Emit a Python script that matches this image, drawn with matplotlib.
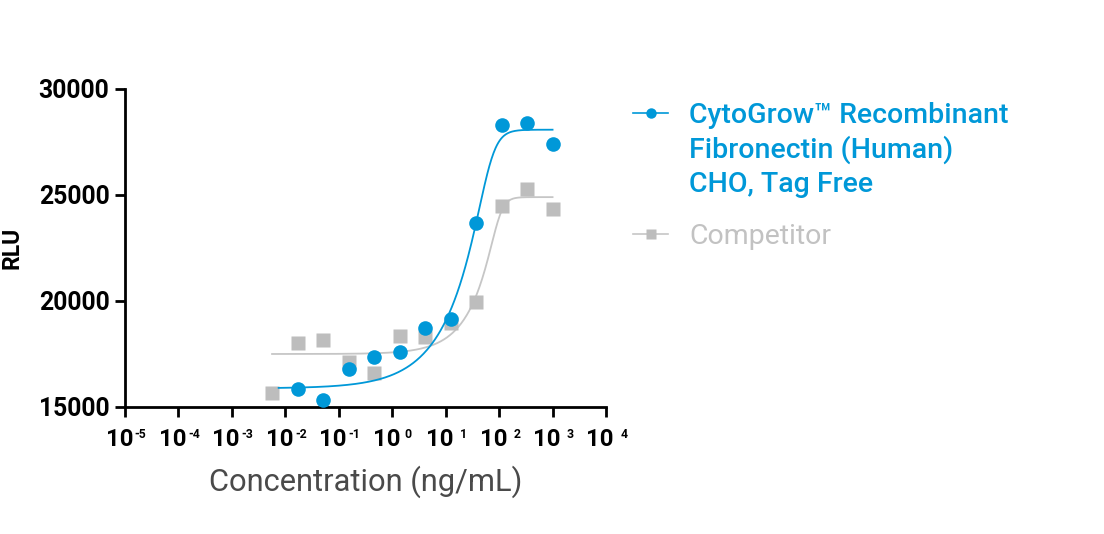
import numpy as np
import matplotlib
matplotlib.use("Agg")
import matplotlib.pyplot as plt
from matplotlib.lines import Line2D
from matplotlib.ticker import NullLocator, FixedLocator

# ---------------- data ----------------
cyto_conc = [1000, 333.3, 111.1, 37.04, 12.35, 4.115, 1.372, 0.4572, 0.1524, 0.0508, 0.01694]
cyto_rlu = [27400, 28380, 28300, 23690, 19165, 18710, 17610, 17340, 16790, 15330, 15850]

comp_conc = [1000, 333.3, 111.1, 37.04, 12.35, 4.115, 1.372, 0.4572, 0.1524, 0.0508, 0.01694, 0.005645]
comp_rlu = [24330, 25280, 24500, 19970, 18950, 18320, 18360, 16620, 17140, 18160, 18005, 15675]

# fitted dose-response curves (5-parameter logistic)
cyto_fit = dict(bottom=15880, top=28080, log_ec50=1.833, hill=3.5, asym=0.2)
comp_fit = dict(bottom=17500, top=24900, log_ec50=2.0, hill=5.0, asym=0.2)
cyto_range = (0.0075, 1000)
comp_range = (0.005645, 1000)

x_exponents = ["-5", "-4", "-3", "-2", "-1", "0", "1", "2", "3", "4"]
y_ticks = [15000, 20000, 25000, 30000]

label_cyto = ["CytoGrow\u2122 Recombinant", "Fibronectin (Human)", "CHO, Tag Free"]
label_comp = "Competitor"
x_label = "Concentration (ng/mL)"
y_label = "RLU"

BLUE = "#0098d8"
GRAY_M = "#bdbdbd"
GRAY_L = "#c6c6c6"
GRAY_T = "#c2c2c2"
DARK = "#4a4a4a"
FONT = "Roboto"

plt.rcParams["font.family"] = [FONT, "DejaVu Sans"]


def five_pl(x, bottom, top, log_ec50, hill, asym):
    u = 10.0 ** (hill * (log_ec50 - np.log10(x)))
    return bottom + (top - bottom) / (1.0 + u) ** asym


W, H = 1104, 534
fig = plt.figure(figsize=(W / 100, H / 100), dpi=100)


def fx(px):
    return px / W


def fy(py):
    return 1 - py / H


ax_l, ax_r, ax_t, ax_b = 125, 606, 89, 407
ax = fig.add_axes([fx(ax_l), fy(ax_b), (ax_r - ax_l) / W, (ax_b - ax_t) / H])
ax.set_xscale("log")
ax.set_xlim(1e-5, 1e4)
ax.set_ylim(15000, 30000)

# curves
xs = np.logspace(np.log10(comp_range[0]), np.log10(comp_range[1]), 400)
ax.plot(xs, five_pl(xs, **comp_fit), color=GRAY_L, lw=1.3, zorder=2)
ax.plot(comp_conc, comp_rlu, linestyle="none", marker="s", ms=9.5,
        color=GRAY_M, mec="none", zorder=3, clip_on=False)
xb = np.logspace(np.log10(cyto_range[0]), np.log10(cyto_range[1]), 400)
ax.plot(xb, five_pl(xb, **cyto_fit), color=BLUE, lw=1.3, zorder=4)
ax.plot(cyto_conc, cyto_rlu, linestyle="none", marker="o", ms=10.5,
        color=BLUE, mec="none", zorder=5, clip_on=False)

# axes styling
for s in ["top", "right"]:
    ax.spines[s].set_visible(False)
for s in ["left", "bottom"]:
    ax.spines[s].set_linewidth(2.0)
    ax.spines[s].set_color("black")

x_ticks = [10.0 ** int(e) for e in x_exponents]
ax.xaxis.set_major_locator(FixedLocator(x_ticks))
ax.xaxis.set_minor_locator(NullLocator())
ax.tick_params(axis="x", which="major", length=7.2, width=2.0, labelbottom=False)
ax.set_yticks(y_ticks)
ax.set_yticklabels([str(v) for v in y_ticks])
ax.tick_params(axis="y", length=7.2, width=2.0, pad=4.0, labelsize=17.8)
for lab in ax.get_yticklabels():
    lab.set_fontweight("bold")
    lab.set_fontfamily(FONT)

# x tick labels: "10" with small superscript exponent
for t, e in zip(x_ticks, x_exponents):
    ax.annotate("10", xy=(t, 0), xycoords=("data", "axes fraction"),
                xytext=(8, -38.5), textcoords="offset pixels",
                ha="right", va="baseline", fontsize=17.2, fontweight="bold",
                fontfamily=FONT, annotation_clip=False)
    gap = 1.7 if e.startswith("-") else (4.5 if e == "0" else 6.3)
    ax.annotate(e, xy=(t, 0), xycoords=("data", "axes fraction"),
                xytext=(8 + gap, -31), textcoords="offset pixels",
                ha="left", va="baseline", fontsize=8.8, fontweight="bold",
                fontfamily=FONT, annotation_clip=False)

# axis titles
fig.text(fx(366), fy(491), x_label, ha="center", va="baseline",
         fontsize=22.2, color=DARK, fontfamily=FONT)
fig.text(fx(12), fy(247.5), y_label, ha="center", va="center", rotation=90,
         fontsize=16.5, fontweight="bold", color="black", fontfamily=FONT)

# legend (drawn manually)
fig.add_artist(Line2D([fx(633), fx(668)], [fy(113), fy(113)], color=BLUE, lw=1.2,
                      transform=fig.transFigure))
fig.add_artist(Line2D([fx(650.5)], [fy(113)], marker="o", ms=7.5, color=BLUE,
                      mec="none", transform=fig.transFigure))
fig.add_artist(Line2D([fx(633), fx(668)], [fy(234), fy(234)], color=GRAY_L, lw=1.2,
                      transform=fig.transFigure))
fig.add_artist(Line2D([fx(650.5)], [fy(234)], marker="s", ms=6.5, color=GRAY_M,
                      mec="none", transform=fig.transFigure))
for i, line in enumerate(label_cyto):
    fig.text(fx(689), fy(123 + 34.7 * i), line, ha="left", va="baseline",
             fontsize=20.5, fontweight="medium", color=BLUE, fontfamily=FONT)
fig.text(fx(689), fy(244.5), label_comp, ha="left", va="baseline",
         fontsize=20.5, color=GRAY_T, fontfamily=FONT)

fig.savefig("out.png", dpi=100)
